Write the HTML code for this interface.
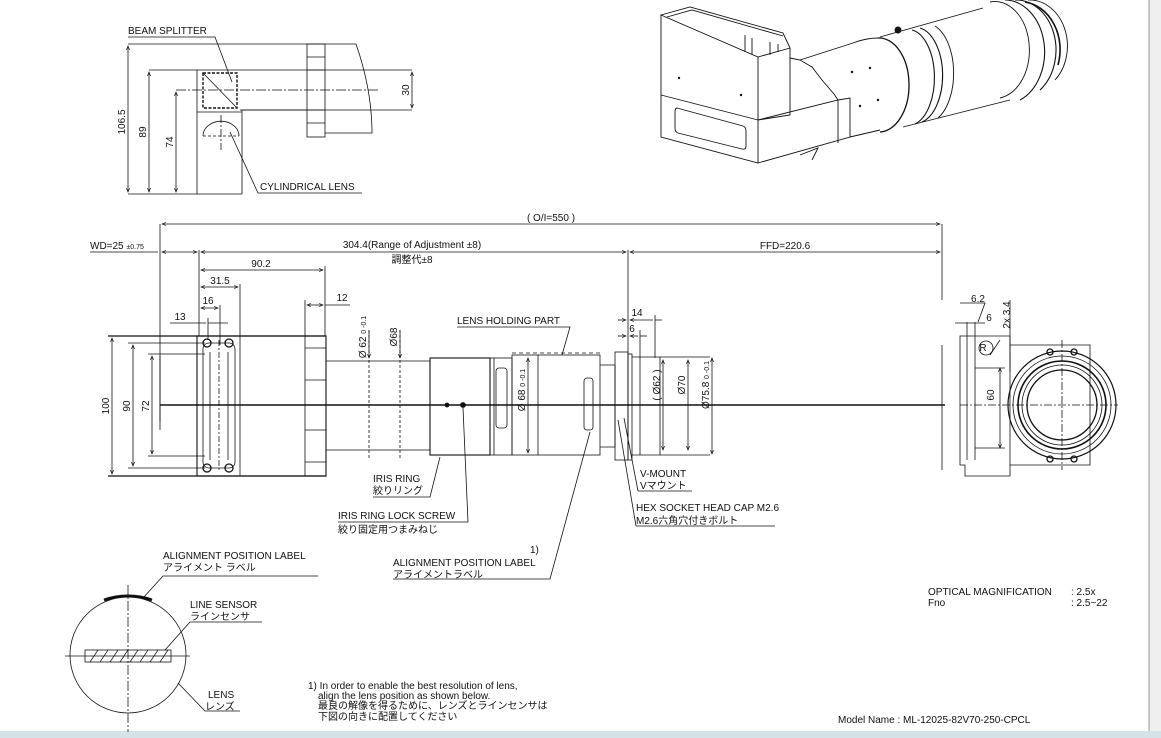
<!DOCTYPE html>
<html><head><meta charset="utf-8"><style>
html,body{margin:0;padding:0;background:#fff;}
svg{display:block;font-family:"Liberation Sans","Noto Sans CJK JP",sans-serif;}
text{font-size:10px;fill:#111;}
</style></head><body>
<svg width="1161" height="738" viewBox="0 0 1161 738" xmlns="http://www.w3.org/2000/svg">
<defs>
<marker id="a" markerWidth="6" markerHeight="6" refX="5" refY="3" orient="auto-start-reverse"><path d="M0,1 L5,3 L0,5" fill="none" stroke="#111" stroke-width="0.8"/></marker>
</defs>
<rect x="1149" y="0" width="12" height="738" fill="#efefef"/>
<line x1="1149" y1="0" x2="1149" y2="732" stroke="#999" stroke-width="1"/>
<rect x="0" y="731" width="1161" height="7" fill="#d3e3e7"/>

<g stroke="#111" fill="none" stroke-width="0.8">
<!-- TOP LEFT VIEW -->
<line x1="128" y1="44" x2="325" y2="44"/>
<line x1="128" y1="194" x2="197" y2="194"/>
<line x1="128" y1="46" x2="128" y2="192" marker-start="url(#a)" marker-end="url(#a)"/>
<line x1="149" y1="72" x2="149" y2="192" marker-start="url(#a)" marker-end="url(#a)"/>
<line x1="176" y1="92" x2="176" y2="192" marker-start="url(#a)" marker-end="url(#a)"/>
<line x1="149" y1="70" x2="412" y2="70"/>
<line x1="240" y1="110" x2="412" y2="110"/>
<line x1="412" y1="72" x2="412" y2="108" marker-start="url(#a)" marker-end="url(#a)"/>
<path d="M197,70 V194 H242 V110 H307"/>
<line x1="197" y1="112" x2="242" y2="112"/>
<rect x="307" y="44" width="18" height="93"/>
<line x1="307" y1="70" x2="325" y2="70"/><line x1="307" y1="110" x2="325" y2="110"/>
<line x1="307" y1="57" x2="325" y2="57"/><line x1="307" y1="123" x2="325" y2="123"/>
<path d="M325,44 H356 Q372,90 372,133 H325"/>
<rect x="203" y="73" width="34" height="35" stroke-dasharray="3,1.5" stroke-width="1.4"/>
<line x1="203" y1="73" x2="237" y2="108"/>
<path d="M203,136 A17,14 0 0 1 239,136" /><line x1="203" y1="136" x2="239" y2="136" stroke-dasharray="3,2"/>
<line x1="176" y1="90" x2="380" y2="90" stroke-dasharray="10,2,2,2"/>
<line x1="221" y1="115" x2="221" y2="150" stroke-dasharray="8,2,2,2"/>
<path d="M128,37 H215 L232,82"/>
<path d="M258,193 H362 M258,193 L230,132"/>

<!-- MAIN DIMENSIONS -->
<line x1="160" y1="224" x2="160" y2="422"/>
<line x1="942" y1="224" x2="942" y2="300"/>
<line x1="942" y1="345" x2="942" y2="470"/>
<line x1="628" y1="250" x2="628" y2="456"/>
<line x1="199" y1="250" x2="199" y2="336"/>
<line x1="162" y1="224" x2="940" y2="224" marker-start="url(#a)" marker-end="url(#a)"/>
<line x1="90" y1="252" x2="158" y2="252"/>
<line x1="162" y1="252" x2="197" y2="252" marker-start="url(#a)" marker-end="url(#a)"/>
<line x1="201" y1="252" x2="626" y2="252" marker-start="url(#a)" marker-end="url(#a)"/>
<line x1="630" y1="252" x2="940" y2="252" marker-start="url(#a)" marker-end="url(#a)"/>
<line x1="201" y1="270" x2="323" y2="270" marker-start="url(#a)" marker-end="url(#a)"/>
<line x1="325" y1="266" x2="325" y2="336"/>
<line x1="201" y1="287" x2="238" y2="287" marker-start="url(#a)" marker-end="url(#a)"/>
<line x1="240" y1="284" x2="240" y2="336"/>
<line x1="201" y1="308" x2="218" y2="308" marker-start="url(#a)" marker-end="url(#a)"/>
<line x1="220" y1="305" x2="220" y2="345"/><line x1="208" y1="318" x2="208" y2="340"/>
<path d="M170,323 H206 M208,323 H220 M220,323 H228"/>
<line x1="305" y1="300" x2="305" y2="336"/>
<line x1="307" y1="305" x2="323" y2="305" marker-start="url(#a)" marker-end="url(#a)"/><line x1="325" y1="305" x2="350" y2="305"/>
<!-- 100/90/72 -->
<line x1="108" y1="336" x2="326" y2="336" stroke-width="1.2"/>
<line x1="108" y1="476" x2="326" y2="476" stroke-width="1.2"/>
<line x1="112" y1="338" x2="112" y2="474" marker-start="url(#a)" marker-end="url(#a)"/>
<line x1="128" y1="343" x2="205" y2="343"/><line x1="128" y1="468" x2="205" y2="468"/>
<line x1="133" y1="345" x2="133" y2="466" marker-start="url(#a)" marker-end="url(#a)"/>
<line x1="148" y1="354" x2="205" y2="354"/><line x1="148" y1="456" x2="205" y2="456"/>
<line x1="152" y1="356" x2="152" y2="454" marker-start="url(#a)" marker-end="url(#a)"/>
<line x1="160" y1="356" x2="160" y2="430"/>
<!-- left block -->
<rect x="197" y="336" width="129" height="140" stroke-width="1.1"/>
<line x1="240" y1="336" x2="240" y2="476"/>
<rect x="203" y="343" width="32" height="125" rx="6"/>
<line x1="210" y1="352" x2="210" y2="460"/><line x1="228" y1="352" x2="228" y2="460"/>
<line x1="219" y1="340" x2="219" y2="472" stroke-dasharray="6,2,2,2"/>
<g stroke-width="1.3"><circle cx="207" cy="343" r="4"/><circle cx="229" cy="343" r="4"/><circle cx="207" cy="468" r="4"/><circle cx="229" cy="468" r="4"/></g>
<rect x="305" y="336" width="21" height="140"/>
<line x1="305" y1="348" x2="326" y2="348"/><line x1="305" y1="380" x2="326" y2="380"/>
<line x1="305" y1="430" x2="326" y2="430"/><line x1="305" y1="462" x2="326" y2="462"/>
<!-- tube -->
<path d="M326,361 H430 M326,450 H430"/>
<line x1="369" y1="330" x2="369" y2="458" stroke-dasharray="3,2"/>
<line x1="400" y1="330" x2="400" y2="458" stroke-dasharray="3,2"/>
<rect x="430" y="358" width="60" height="97" stroke-width="1.1"/>
<rect x="490" y="358" width="22" height="97"/>
<line x1="494" y1="358" x2="494" y2="455"/>
<rect x="496" y="368" width="11" height="60" rx="3"/>
<rect x="512" y="355" width="88" height="100"/>
<line x1="538" y1="355" x2="538" y2="455"/>
<path d="M600,365 H615 V447 H600"/>
<rect x="615" y="352" width="13" height="108"/>
<rect x="584" y="378" width="9" height="52" rx="3"/>
<rect x="628" y="354" width="4" height="106"/>
<path d="M632,357 H660 V455 H632"/>
<line x1="640" y1="357" x2="640" y2="455"/>
<line x1="660" y1="357" x2="710" y2="357"/><line x1="660" y1="455" x2="710" y2="455"/>
<line x1="663" y1="360" x2="663" y2="450" marker-start="url(#a)" marker-end="url(#a)"/>
<line x1="688" y1="360" x2="688" y2="450" marker-start="url(#a)" marker-end="url(#a)"/>
<line x1="712" y1="358" x2="712" y2="454" marker-start="url(#a)" marker-end="url(#a)"/>
<line x1="655" y1="315" x2="655" y2="358"/><line x1="640" y1="330" x2="640" y2="358"/>
<line x1="618" y1="320" x2="626" y2="320" marker-end="url(#a)"/><line x1="630" y1="320" x2="653" y2="320" marker-start="url(#a)"/><line x1="655" y1="320" x2="662" y2="320"/>
<line x1="618" y1="336" x2="626" y2="336" marker-end="url(#a)"/><line x1="630" y1="336" x2="638" y2="336" marker-start="url(#a)"/><line x1="640" y1="336" x2="647" y2="336"/>
<line x1="369" y1="330" x2="369" y2="358" marker-end="url(#a)"/>
<line x1="400" y1="330" x2="400" y2="358" marker-end="url(#a)"/>
<line x1="528" y1="358" x2="528" y2="453" marker-start="url(#a)" marker-end="url(#a)"/>
<!-- axis -->
<line x1="160" y1="405" x2="945" y2="405" stroke-width="1.6"/>
<circle cx="447" cy="405" r="2" fill="#111"/><circle cx="463" cy="405" r="2.5" fill="#111"/>
<!-- right end view -->
<path d="M960,336 H1010 V345 H1090 V465 H1010 V476 H965 V465 H960 Z"/>
<line x1="1010" y1="345" x2="1010" y2="465"/>
<line x1="967" y1="322" x2="967" y2="460"/><line x1="975" y1="322" x2="975" y2="460"/>
<line x1="955" y1="323" x2="985" y2="323"/>
<line x1="960" y1="405" x2="1118" y2="405" stroke-dasharray="8,2,2,2"/>
<line x1="1062" y1="340" x2="1062" y2="470" stroke-dasharray="8,2,2,2"/>
<circle cx="1062" cy="405" r="54" stroke-width="1.2"/><circle cx="1062" cy="405" r="49"/>
<circle cx="1062" cy="405" r="44" stroke-width="1.6"/><circle cx="1062" cy="405" r="40"/><circle cx="1062" cy="405" r="35" stroke-width="1.3"/>
<g stroke-width="1.3"><circle cx="1050" cy="352" r="3"/><circle cx="1074" cy="352" r="3"/><circle cx="1050" cy="459" r="3"/><circle cx="1074" cy="459" r="3"/></g>
<line x1="1000" y1="368" x2="1000" y2="448" marker-start="url(#a)" marker-end="url(#a)"/>
<line x1="975" y1="368" x2="1005" y2="368"/><line x1="975" y1="448" x2="1005" y2="448"/>
<line x1="1010" y1="300" x2="1010" y2="372" />
<path d="M990,355 L1000,340"/>
<circle cx="986" cy="348" r="7"/>
<path d="M960,303 H985 L978,322"/>

<!-- leaders -->
<path d="M457,327 H570 L562,355"/>
<line x1="512" y1="353" x2="600" y2="353" stroke-dasharray="4,3"/>
<path d="M373,497 H430 L440,457"/>
<path d="M338,522 H468 L463,408"/>
<path d="M393,579 H550 L590,432"/>
<path d="M638,491 H692 M638,491 L624,418"/>
<path d="M636,526 H775 M636,526 L618,420"/>

<!-- bottom left circle -->
<circle cx="128" cy="655" r="58"/>
<path d="M104,600 Q128,592 152,600" stroke-width="3"/>
<line x1="65" y1="656" x2="190" y2="656"/>
<line x1="128" y1="585" x2="128" y2="732" stroke-dasharray="10,2,2,2"/>
<rect x="85" y="650" width="86" height="12"/>
<g stroke-width="0.7"><path d="M90,662 L98,650 M100,662 L108,650 M110,662 L118,650 M120,662 L128,650 M130,662 L138,650 M140,662 L148,650 M150,662 L158,650 M160,662 L168,650"/></g>
<path d="M318,576 H163 L143,598"/>
<path d="M262,622 H190 L165,650"/>
<path d="M240,711 H205 L178,683"/>

<!-- 3D view -->
<g stroke-width="0.9">
<path d="M661,15 L690,7 L783,33 L790,48 L758,57 Z"/>
<path d="M667,17 L692,10 L783,36"/>
<path d="M745,35 V52 M752,38 V54 M770,42 V55 M778,44 V52"/>
<path d="M661,15 V137 L758,163 V57"/>
<path d="M790,48 V115 L758,120"/>
<path d="M661,95 L758,120"/>
<path d="M758,120 L838,100 L850,98 V137 L758,163"/>
<path d="M838,100 V143"/>
<path d="M677,108 L743,126 Q746,127 746,131 V146 Q746,150 742,149 L678,133 Q675,132 675,128 V112 Q675,108 677,108 Z"/>
<path d="M790,58 L800,60 L812,67 L822,80 L834,94 L838,100"/>
<path d="M800,60 L853,43"/>
<path d="M850,137 L880,130"/>
<path d="M878,38 A30,47 0 0 1 880,132" stroke-width="1.3"/>
<path d="M853,43 Q866,38 878,38"/>
<path d="M880,37 L983,8"/>
<path d="M903,127 L1010,100"/>
<path d="M912,30 A26,48 0 0 1 915,124" stroke-width="1.1"/>
<path d="M920,28 A27,48 0 0 1 922,122" stroke-width="1.1"/>
<path d="M935,26 A28,50 0 0 1 938,118"/>
<circle cx="898" cy="30" r="3" fill="#111"/>
<path d="M990,2 A34,48 0 0 1 1000,98"/>
<path d="M1005,0 A40,52 0 0 1 1020,100" stroke-width="1.1"/>
<path d="M1015,0 A40,50 0 0 1 1040,90" stroke-width="1.1"/>
<path d="M1025,2 A40,48 0 0 1 1058,65" stroke-width="1.6"/>
<path d="M1028,0 A38,46 0 0 1 1055,80" />
<path d="M800,155 L818,148 L812,160"/>
<g fill="#111" stroke="none"><circle cx="679" cy="78" r="1.2"/><circle cx="741" cy="95" r="1.2"/><circle cx="852" cy="72" r="1.2"/><circle cx="870" cy="68" r="1.2"/><circle cx="860" cy="106" r="1.2"/><circle cx="878" cy="100" r="1.2"/></g>
</g>
</g>

<!-- TEXT -->
<text x="128" y="34">BEAM SPLITTER</text>
<text x="260" y="190">CYLINDRICAL LENS</text>
<text transform="translate(125,122) rotate(-90)" text-anchor="middle">106.5</text>
<text transform="translate(146,132) rotate(-90)" text-anchor="middle">89</text>
<text transform="translate(173,142) rotate(-90)" text-anchor="middle">74</text>
<text transform="translate(409,90) rotate(-90)" text-anchor="middle">30</text>

<text x="551" y="221" text-anchor="middle">( O/I=550 )</text>
<text x="90" y="249">WD=25 <tspan font-size="7">±0.75</tspan></text>
<text x="412" y="248" text-anchor="middle">304.4(Range of Adjustment ±8)</text>
<text x="412" y="263" text-anchor="middle">調整代±8</text>
<text x="785" y="249" text-anchor="middle">FFD=220.6</text>
<text x="261" y="267" text-anchor="middle">90.2</text>
<text x="220" y="284" text-anchor="middle">31.5</text>
<text x="208" y="304" text-anchor="middle">16</text>
<text x="180" y="320" text-anchor="middle">13</text>
<text x="342" y="301" text-anchor="middle">12</text>
<text transform="translate(109,406) rotate(-90)" text-anchor="middle">100</text>
<text transform="translate(130,406) rotate(-90)" text-anchor="middle">90</text>
<text transform="translate(149,406) rotate(-90)" text-anchor="middle">72</text>
<text transform="translate(366,337) rotate(-90)" text-anchor="middle">Ø 62 <tspan font-size="7">0 -0.1</tspan></text>
<text transform="translate(397,337) rotate(-90)" text-anchor="middle">Ø68</text>
<text transform="translate(525,390) rotate(-90)" text-anchor="middle">Ø 68 <tspan font-size="7">0 -0.1</tspan></text>
<text transform="translate(660,385) rotate(-90)" text-anchor="middle">( Ø62 )</text>
<text transform="translate(685,385) rotate(-90)" text-anchor="middle">Ø70</text>
<text transform="translate(709,385) rotate(-90)" text-anchor="middle">Ø75.8 <tspan font-size="7">0 -0.1</tspan></text>
<text x="637" y="316" text-anchor="middle">14</text>
<text x="632" y="332" text-anchor="middle">6</text>
<text x="457" y="324">LENS HOLDING PART</text>
<text x="373" y="482">IRIS RING</text>
<text x="373" y="494">絞りリング</text>
<text x="338" y="519">IRIS RING LOCK SCREW</text>
<text x="338" y="533">絞り固定用つまみねじ</text>
<text x="530" y="553">1)</text>
<text x="393" y="566">ALIGNMENT POSITION LABEL</text>
<text x="393" y="578">アライメントラベル</text>
<text x="640" y="477">V-MOUNT</text>
<text x="640" y="489">Vマウント</text>
<text x="636" y="511">HEX SOCKET HEAD CAP M2.6</text>
<text x="636" y="524">M2.6六角穴付きボルト</text>
<text x="978" y="302" text-anchor="middle">6.2</text>
<text x="989" y="321" text-anchor="middle">6</text>
<text transform="translate(1010,315) rotate(-90)" text-anchor="middle">2x 3.4</text>
<text transform="translate(994,395) rotate(-90)" text-anchor="middle">60</text>
<text x="983" y="351" font-size="8" text-anchor="middle">R</text>

<text x="163" y="559">ALIGNMENT POSITION LABEL</text>
<text x="163" y="571">アライメント ラベル</text>
<text x="190" y="608">LINE SENSOR</text>
<text x="190" y="620">ラインセンサ</text>
<text x="208" y="698">LENS</text>
<text x="205" y="710">レンズ</text>
<text x="308" y="689" font-size="9.5">1) In order to enable the best resolution of lens,</text>
<text x="318" y="699" font-size="9.5">align the lens position as shown below.</text>
<text x="318" y="709" font-size="9.5">最良の解像を得るために、レンズとラインセンサは</text>
<text x="318" y="720" font-size="9.5">下図の向きに配置してください</text>
<text x="928" y="595">OPTICAL MAGNIFICATION</text><text x="1071" y="595">: 2.5x</text>
<text x="928" y="606">Fno</text><text x="1071" y="606">: 2.5~22</text>
<text x="838" y="723" font-size="11">Model Name : ML-12025-82V70-250-CPCL</text>
</svg>
</body></html>
